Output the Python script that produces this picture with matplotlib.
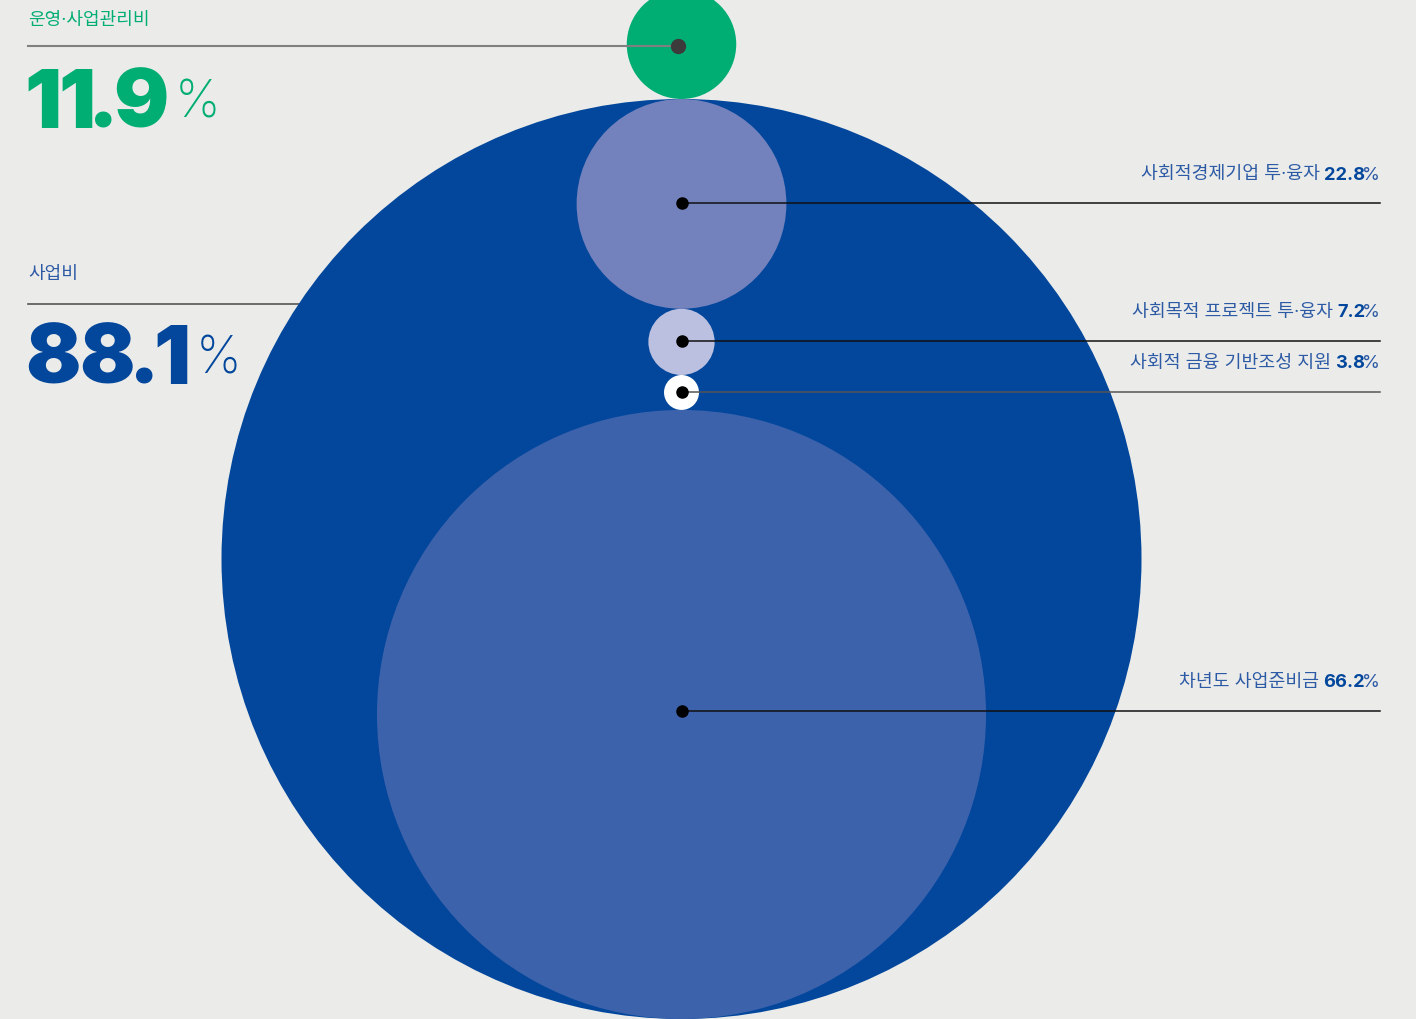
import numpy as np
import matplotlib
matplotlib.use("Agg")
from matplotlib import pyplot as plt
from matplotlib.patches import Circle
from matplotlib.textpath import TextPath
from matplotlib.font_manager import FontProperties

plt.rcParams['font.family'] = ['Noto Sans CJK KR', 'DejaVu Sans']

# data
top_labels = ["운영·사업관리비", "사업비"]
top_values = [11.9, 88.1]
sub_labels = ["사회적경제기업 투·융자", "사회목적 프로젝트 투·융자", "사회적 금융 기반조성 지원", "차년도 사업준비금"]
sub_values = [22.8, 7.2, 3.8, 66.2]
sub_colors = ["#7382bd", "#bcc0e0", "#ffffff", "#3d62ac"]

bg = "#ebecea"
green = "#00ad73"
blue = "#02479c"
textblue = "#2d5aa5"
lab_font = ['Inter', 'Noto Sans CJK KR']

W, H = 1416, 1020
fig = plt.figure(figsize=(W / 100, H / 100), dpi=100, facecolor=bg)
ax = fig.add_axes([0, 0, 1, 1])
ax.set_xlim(0, W)
ax.set_ylim(H, 0)
ax.set_facecolor(bg)
ax.axis('off')

k = 4.6  # px per percent (radius)
cx = 681.5
outer_top = 100
R = 100 * k
outer_cy = outer_top + R

# left guide line for 사업비 (goes under the big circle)
ax.plot([28, cx], [305, 305], color="#555555", lw=1.2, zorder=1)

ax.add_patch(Circle((cx, outer_cy), R, color=blue, zorder=2, lw=0))

# green circle sitting on top
rg = top_values[0] * k
gy = outer_top - rg
ax.add_patch(Circle((cx, gy), rg, color=green, zorder=3, lw=0))
ax.plot([28, cx - 4], [47, 47], color="#808080", lw=1.5, zorder=4)
ax.plot(cx - 4, 47, 'o', ms=10, color="#3d3a3b", zorder=5)

# stacked sub circles
y = outer_top
for v, c in zip(sub_values, sub_colors):
    r = v * k
    ax.add_patch(Circle((cx, y + r), r, color=c, zorder=3, lw=0))
    y += 2 * r

line_y = [204, 342, 393, 712]
line_c = ["#111111", "#111111", "#555555", "#111111"]
fig.canvas.draw()
renderer = fig.canvas.get_renderer()
xr = 1380
fs = 13.2
for lab, v, ly, lc in zip(sub_labels, sub_values, line_y, line_c):
    ax.plot([cx, xr], [ly, ly], color=lc, lw=1.1, zorder=4)
    ax.plot(cx, ly, 'o', ms=8, color="black", zorder=5)
    ty = ly - 29
    t1 = ax.text(xr, ty, "%", ha='right', va='center', fontsize=fs,
                 color=textblue, family=lab_font, zorder=6)
    w1 = t1.get_window_extent(renderer).width - 3
    t2 = ax.text(xr - w1, ty, "%.1f" % v, ha='right', va='center', fontsize=fs,
                 color=blue, fontweight='bold', family=lab_font, zorder=6)
    w2 = t2.get_window_extent(renderer).width
    ax.text(xr - w1 - w2 - 4, ty, lab, ha='right', va='center', fontsize=fs,
            color=textblue, family=lab_font, zorder=6)

# left texts
ax.text(28, 21, top_labels[0], ha='left', va='center', fontsize=13, color=green, family=lab_font)
ax.text(28, 275, top_labels[1], ha='left', va='center', fontsize=13, color=textblue, family=lab_font)

# big numbers: place glyph by glyph using ink extents
big_fs = 59
pct_fs = 37
fp_big = FontProperties(family='Inter', weight='black')
fp_pct = FontProperties(family='Inter', weight='light')


def ink(ch, fp, fsize):
    bb = TextPath((0, 0), ch, size=fsize * 100 / 72, prop=fp).get_extents()
    return bb.x0, bb.x1


for val, yb, col in [(top_values[0], 128, green), (top_values[1], 384, blue)]:
    xi = 28  # left edge of ink for next glyph
    for ch in "%.1f" % val:
        x0, x1 = ink(ch, fp_big, big_fs)
        ax.text(xi - x0, yb, ch, ha='left', va='baseline', fontsize=big_fs,
                color=col, fontproperties=fp_big, zorder=6)
        xi = xi + (x1 - x0) + 4
    x0, x1 = ink("%", fp_pct, pct_fs)
    ax.text(xi + 11 - x0, yb - 10, "%", ha='left', va='baseline', fontsize=pct_fs,
            color=col, fontproperties=fp_pct, zorder=6)

fig.savefig("out.png", dpi=100, facecolor=bg)
